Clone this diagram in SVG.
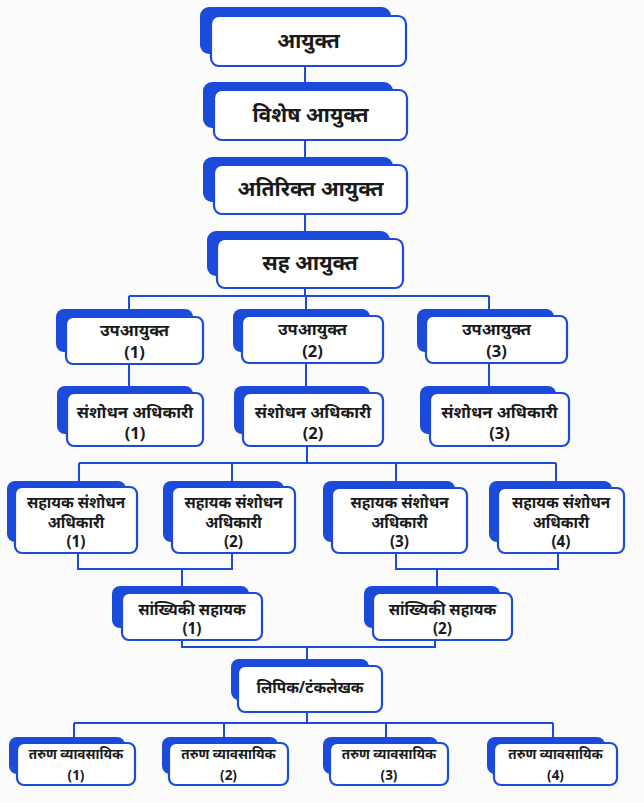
<svg xmlns="http://www.w3.org/2000/svg" width="644" height="803" viewBox="0 0 644 803">
  <style>
    .back { fill: #1c4bdc; }
    .card { fill: #ffffff; stroke: #1c4bdc; stroke-width: 2.2; }
    .link { fill: none; stroke: #1c4bdc; stroke-width: 2; }
    text { font-family: "Noto Sans", "Liberation Sans", sans-serif; font-weight: bold; fill: #1a1a1a; text-anchor: middle; }
    .t1 { font-size: 21px; }
    .t2 { font-size: 16.5px; }
    .t3 { font-size: 15.3px; }
    .t4 { font-size: 13.5px; }
  </style>
  <rect width="644" height="803" fill="#fbfbfc"/>

  <g id="connectors">
    <path class="link" d="M305 66V90 M305 140V165 M305 214V239 M305 288V296"/>
    <path class="link" d="M129 296H489 M129 296V317 M306 296V317 M489 296V317"/>
    <path class="link" d="M129 364V393 M306 363V393 M489 363V393"/>
    <path class="link" d="M307 446V463 M79 463H556 M79 463V487 M232 463V487 M396 463V488 M556 463V488"/>
    <path class="link" d="M78 553V569H232V553 M182 569V593"/>
    <path class="link" d="M396 553V569H558V553 M437 569V593"/>
    <path class="link" d="M182 640V647H435V640 M307 647V666"/>
    <path class="link" d="M307 712V723 M74 723H553 M74 723V743 M224 723V743 M386 723V743 M553 723V743"/>
  </g>

  <g id="n-ayukt">
    <rect class="back" x="200" y="7" width="191" height="47" rx="9"/>
    <rect class="card" x="211" y="16" width="195" height="50" rx="8"/>
    <text class="t1" x="308.5" y="48">आयुक्त</text>
  </g>
  <g id="n-vishesh">
    <rect class="back" x="203" y="82" width="190" height="46" rx="9"/>
    <rect class="card" x="214" y="90" width="193" height="50" rx="8"/>
    <text class="t1" x="310.5" y="122">विशेष आयुक्त</text>
  </g>
  <g id="n-atirikt">
    <rect class="back" x="203" y="157" width="190" height="45" rx="9"/>
    <rect class="card" x="214" y="165" width="193" height="49" rx="8"/>
    <text class="t1" x="310.5" y="196">अतिरिक्त आयुक्त</text>
  </g>
  <g id="n-sah">
    <rect class="back" x="207" y="231" width="183" height="45" rx="9"/>
    <rect class="card" x="217" y="239" width="186" height="49" rx="8"/>
    <text class="t1" x="310" y="270">सह आयुक्त</text>
  </g>

  <g id="n-up1">
    <rect class="back" x="56" y="309" width="137" height="43" rx="8"/>
    <rect class="card" x="66" y="317" width="137" height="47" rx="7"/>
    <text class="t2" x="134.5" y="336">उपआयुक्त</text>
    <text class="t2" x="134.5" y="358">(1)</text>
  </g>
  <g id="n-up2">
    <rect class="back" x="233" y="309" width="137" height="43" rx="8"/>
    <rect class="card" x="242" y="316" width="141" height="47" rx="7"/>
    <text class="t2" x="312.5" y="335">उपआयुक्त</text>
    <text class="t2" x="312.5" y="357">(2)</text>
  </g>
  <g id="n-up3">
    <rect class="back" x="417" y="309" width="137" height="43" rx="8"/>
    <rect class="card" x="426" y="316" width="141" height="47" rx="7"/>
    <text class="t2" x="496.5" y="335">उपआयुक्त</text>
    <text class="t2" x="496.5" y="357">(3)</text>
  </g>

  <g id="n-sa1">
    <rect class="back" x="57" y="386" width="136" height="48" rx="8"/>
    <rect class="card" x="67" y="393" width="136" height="53" rx="7"/>
    <text class="t2" x="135" y="418">संशोधन अधिकारी</text>
    <text class="t2" x="135" y="439">(1)</text>
  </g>
  <g id="n-sa2">
    <rect class="back" x="234" y="386" width="136" height="48" rx="8"/>
    <rect class="card" x="243" y="393" width="140" height="53" rx="7"/>
    <text class="t2" x="313" y="418">संशोधन अधिकारी</text>
    <text class="t2" x="313" y="439">(2)</text>
  </g>
  <g id="n-sa3">
    <rect class="back" x="420" y="386" width="136" height="48" rx="8"/>
    <rect class="card" x="430" y="393" width="139" height="53" rx="7"/>
    <text class="t2" x="499.5" y="418">संशोधन अधिकारी</text>
    <text class="t2" x="499.5" y="439">(3)</text>
  </g>

  <g id="n-asa1">
    <rect class="back" x="7" y="481" width="119" height="61" rx="8"/>
    <rect class="card" x="15" y="487" width="122" height="66" rx="7"/>
    <text class="t3" x="76" y="508">सहायक संशोधन</text>
    <text class="t3" x="76" y="528">अधिकारी</text>
    <text class="t3" x="76" y="547">(1)</text>
  </g>
  <g id="n-asa2">
    <rect class="back" x="163" y="481" width="121" height="61" rx="8"/>
    <rect class="card" x="172" y="487" width="123" height="66" rx="7"/>
    <text class="t3" x="233.5" y="508">सहायक संशोधन</text>
    <text class="t3" x="233.5" y="528">अधिकारी</text>
    <text class="t3" x="233.5" y="547">(2)</text>
  </g>
  <g id="n-asa3">
    <rect class="back" x="323" y="481" width="132" height="61" rx="8"/>
    <rect class="card" x="332" y="488" width="135" height="65" rx="7"/>
    <text class="t3" x="399.5" y="508">सहायक संशोधन</text>
    <text class="t3" x="399.5" y="528">अधिकारी</text>
    <text class="t3" x="399.5" y="547">(3)</text>
  </g>
  <g id="n-asa4">
    <rect class="back" x="489" y="481" width="123" height="61" rx="8"/>
    <rect class="card" x="498" y="488" width="126" height="65" rx="7"/>
    <text class="t3" x="561" y="508">सहायक संशोधन</text>
    <text class="t3" x="561" y="528">अधिकारी</text>
    <text class="t3" x="561" y="547">(4)</text>
  </g>

  <g id="n-ss1">
    <rect class="back" x="112" y="586" width="137" height="42" rx="8"/>
    <rect class="card" x="122" y="593" width="140" height="47" rx="7"/>
    <text class="t3" x="192" y="615">सांख्यिकी सहायक</text>
    <text class="t3" x="192" y="634">(1)</text>
  </g>
  <g id="n-ss2">
    <rect class="back" x="364" y="586" width="136" height="42" rx="8"/>
    <rect class="card" x="373" y="593" width="139" height="47" rx="7"/>
    <text class="t3" x="442.5" y="615">सांख्यिकी सहायक</text>
    <text class="t3" x="442.5" y="634">(2)</text>
  </g>

  <g id="n-lipik">
    <rect class="back" x="231" y="659" width="138" height="41" rx="8"/>
    <rect class="card" x="238" y="666" width="144" height="46" rx="7"/>
    <text class="t3" x="310" y="693">लिपिक/टंकलेखक</text>
  </g>

  <g id="n-tv1">
    <rect class="back" x="9" y="737" width="116" height="37" rx="8"/>
    <rect class="card" x="17" y="743" width="118" height="42" rx="7"/>
    <text class="t4" x="76" y="759">तरुण व्यावसायिक</text>
    <text class="t4" x="76" y="780">(1)</text>
  </g>
  <g id="n-tv2">
    <rect class="back" x="162" y="737" width="116" height="37" rx="8"/>
    <rect class="card" x="169" y="743" width="119" height="42" rx="7"/>
    <text class="t4" x="228.5" y="759">तरुण व्यावसायिक</text>
    <text class="t4" x="228.5" y="780">(2)</text>
  </g>
  <g id="n-tv3">
    <rect class="back" x="323" y="737" width="115" height="37" rx="8"/>
    <rect class="card" x="330" y="743" width="118" height="42" rx="7"/>
    <text class="t4" x="389" y="759">तरुण व्यावसायिक</text>
    <text class="t4" x="389" y="780">(3)</text>
  </g>
  <g id="n-tv4">
    <rect class="back" x="487" y="737" width="118" height="37" rx="8"/>
    <rect class="card" x="494" y="743" width="123" height="42" rx="7"/>
    <text class="t4" x="555.5" y="759">तरुण व्यावसायिक</text>
    <text class="t4" x="555.5" y="780">(4)</text>
  </g>
</svg>
